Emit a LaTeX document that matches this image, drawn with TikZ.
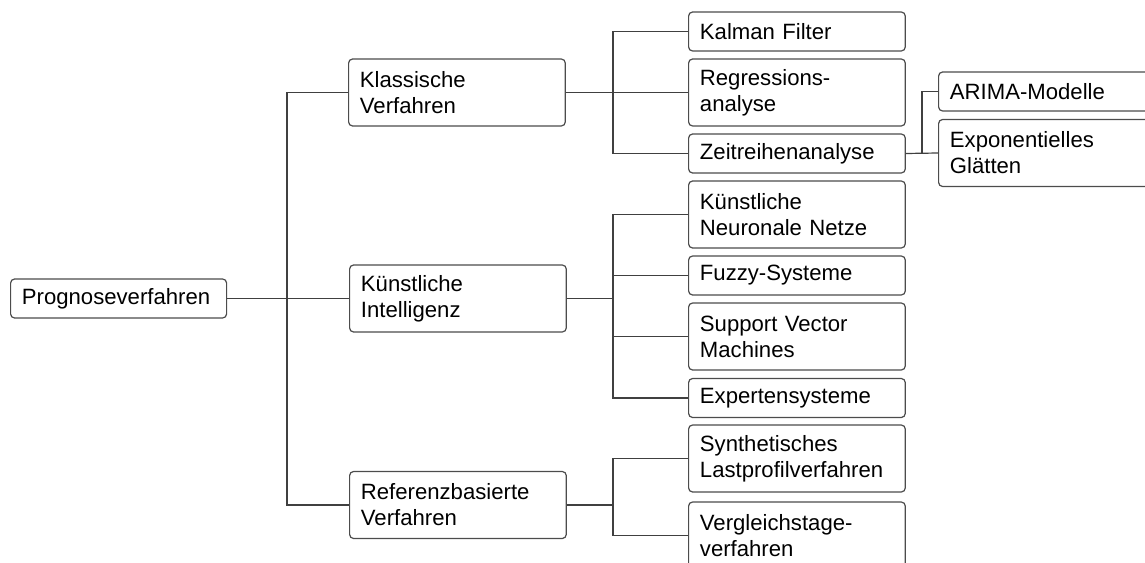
\documentclass[tikz,border=0pt]{standalone}
\usepackage{fontspec}
\setsansfont{Liberation Sans}
\usetikzlibrary{positioning}
\tikzset{every picture/.style={/utils/exec={\sffamily}}}
\tikzset{
  box/.style={draw=black!70, line width=0.9pt, rounded corners=3pt, anchor=west,
    align=left, text width=145.5pt, inner xsep=8.5pt, inner ysep=0pt,
    minimum height=29.25pt, font=\fontsize{16.6}{19.5}\selectfont},
  box2/.style={box, minimum height=50.25pt},
  tree/.style={draw=black!75, line width=0.9pt}
}

\begin{document}
\begin{tikzpicture}[x=0.75pt,y=-0.75pt]
  \clip (0,0) rectangle (1145,563);

  % root and first level
  \node[box, text width=145pt] (prog) at (10,298.5) {Prognoseverfahren};
  \node[box2] (klass) at (348,92.5) {Klassische\\Verfahren};
  \node[box2] (ki) at (349,298.5) {Künstliche\\Intelligenz};
  \node[box2] (ref) at (349,505) {Referenzbasierte\\Verfahren};

  % second level
  \node[box] (kalman) at (688,31.5) {Kalman Filter};
  \node[box2] (regr) at (688,92.5) {Regressions-\\analyse};
  \node[box] (zeit) at (688,153.5) {Zeitreihenanalyse};
  \node[box2] (knn) at (688,214.5) {Künstliche\\Neuronale Netze};
  \node[box] (fuzzy) at (688,275.5) {Fuzzy-Systeme};
  \node[box2] (svm) at (688,336.5) {Support Vector\\Machines};
  \node[box] (expert) at (688,398) {Expertensysteme};
  \node[box2] (synth) at (688,458.5) {Synthetisches\\Lastprofilverfahren};
  \node[box2] (vergl) at (688,535.5) {Vergleichstage-\\verfahren};

  % third level
  \node[box] (arima) at (938,91.5) {ARIMA-Modelle};
  \node[box2] (expo) at (938,153) {Exponentielles\\Glätten};

  \coordinate (j1) at (287,0);
  \coordinate (j2) at (613,0);
  \coordinate (j3) at (922,0);

  \draw[tree] (prog.east) -- (ki.west);
  \draw[tree] (klass.west) -- (klass.west -| j1) -- (ref.west -| j1) -- (ref.west);

  \draw[tree] (klass.east) -- (regr.west);
  \draw[tree] (kalman.west) -- (kalman.west -| j2) -- (zeit.west -| j2) -- (zeit.west);

  \draw[tree] (ki.east) -- (ki.east -| j2);
  \draw[tree] (knn.west) -- (knn.west -| j2) -- (expert.west -| j2) -- (expert.west);
  \draw[tree] (fuzzy.west) -- (fuzzy.west -| j2);
  \draw[tree] (svm.west) -- (svm.west -| j2);

  \draw[tree] (ref.east) -- (ref.east -| j2);
  \draw[tree] (synth.west) -- (synth.west -| j2) -- (vergl.west -| j2) -- (vergl.west);

  \draw[tree] (zeit.east) -- (expo.west);
  \draw[tree] (arima.west) -- (arima.west -| j3) -- (expo.west -| j3);
\end{tikzpicture}
\end{document}
